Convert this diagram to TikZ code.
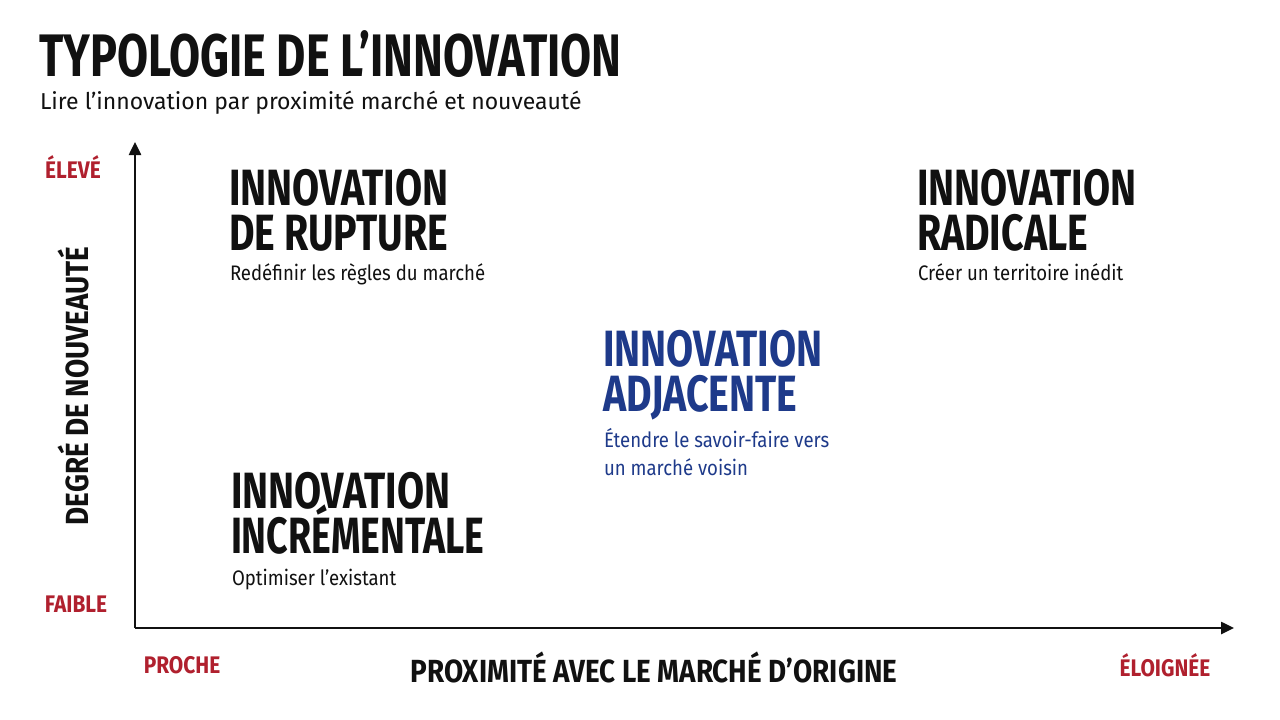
\documentclass[tikz,border=0pt]{standalone}
\usepackage{fontspec}
\setmainfont{Fira Sans}
\newfontfamily\titlefont[FakeStretch=0.75]{Fira Sans}
\newfontfamily\headfont[FakeStretch=0.77]{Fira Sans}
\newfontfamily\headnarrowfont[FakeStretch=0.735]{Fira Sans}
\newfontfamily\lblfont[FakeStretch=0.87]{Fira Sans}
\newfontfamily\descfont[FakeStretch=0.885]{Fira Sans}
\usetikzlibrary{arrows.meta}
\definecolor{accred}{HTML}{B0202E}
\definecolor{accblue}{HTML}{1E3A8A}
\definecolor{ink}{HTML}{111111}
\tikzset{
  every node/.style={inner sep=0pt, outer sep=0pt, text=ink},
  titletxt/.style={anchor=base west, font=\titlefont\bfseries\fontsize{60}{60}\selectfont},
  subtitletxt/.style={anchor=base west, font=\fontsize{23}{26}\selectfont},
  headtxt/.style={anchor=base west, text height=36pt, text depth=1pt, font=\headfont\bfseries\fontsize{51}{51}\selectfont},
  headnarrow/.style={anchor=base west, text height=36pt, text depth=1pt, font=\headnarrowfont\bfseries\fontsize{51}{51}\selectfont},
  desctxt/.style={anchor=base west, text height=16pt, text depth=5pt, font=\descfont\fontsize{21}{24}\selectfont},
  redlbl/.style={font=\lblfont\bfseries\fontsize{24}{24}\selectfont, text=accred},
  axistitle/.style={font=\lblfont\bfseries\fontsize{32}{32}\selectfont},
  axisline/.style={line width=2.5pt, draw=ink, -{Triangle[length=13pt,width=12pt]}},
}
\begin{document}
\begin{tikzpicture}[x=1pt,y=-1pt]
\useasboundingbox (0,0) rectangle (1280,720);
\fill[white] (0,0) rectangle (1280,720);

% title
\node[titletxt] (title) at (39,76) {TYPOLOGIE DE L’INNOVATION};
\node[subtitletxt] (subtitle) at (40,109) {Lire l’innovation par proximité marché et nouveauté};

% axes
\coordinate (origin) at (135,628);
\coordinate (ytip) at (135,142);
\coordinate (xtip) at (1234,628);
\draw[axisline] (origin) -- (ytip);
\draw[axisline] (origin) -- (xtip);

% axis labels
\node[redlbl] (eleve) at (73,167) {ÉLEVÉ};
\node[redlbl] (faible) at (76,604) {FAIBLE};
\node[redlbl] (proche) at (182,665) {PROCHE};
\node[redlbl] (eloignee) at (1165,665) {ÉLOIGNÉE};
\node[axistitle, rotate=90] (ytitle) at (73,386) {DEGRÉ DE NOUVEAUTÉ};
\node[axistitle] (xtitle) at (654,667) {PROXIMITÉ AVEC LE MARCHÉ D’ORIGINE};

% quadrant: rupture
\node[headtxt] (rup1) at (229,205) {INNOVATION};
\node[headtxt] (rup2) at (229,250) {DE RUPTURE};
\node[desctxt] (rupS) at (230,280) {Redéfinir les règles du marché};

% quadrant: radicale
\node[headtxt] (rad1) at (917,205) {INNOVATION};
\node[headtxt] (rad2) at (917,250) {RADICALE};
\node[desctxt] (radS) at (918,280) {Créer un territoire inédit};

% adjacente
\node[headtxt, text=accblue] (adj1) at (603,366) {INNOVATION};
\node[headtxt, text=accblue] (adj2) at (603,411) {ADJACENTE};
\node[desctxt, text=accblue] (adjS1) at (604,447) {Étendre le savoir-faire vers};
\node[desctxt, text=accblue] (adjS2) at (604,475) {un marché voisin};

% incrementale
\node[headtxt] (inc1) at (231,508) {INNOVATION};
\node[headnarrow] (inc2) at (231,553) {INCRÉMENTALE};
\node[desctxt] (incS) at (232,585) {Optimiser l’existant};
\end{tikzpicture}
\end{document}
